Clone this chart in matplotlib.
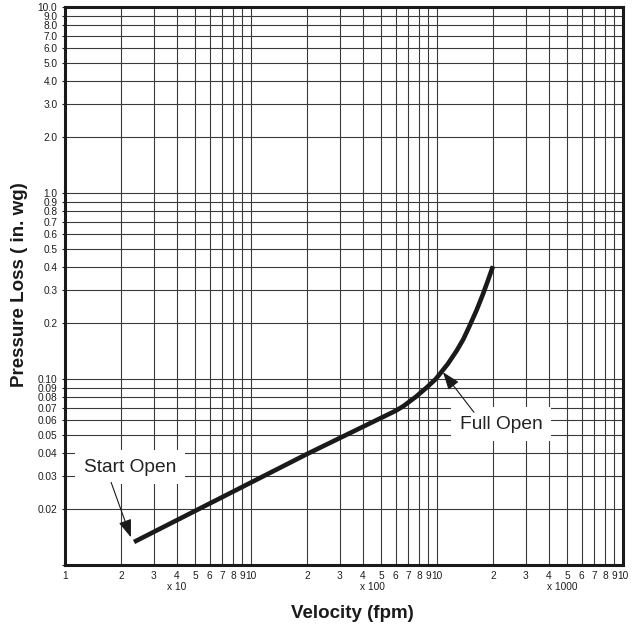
import matplotlib
matplotlib.use("Agg")
import matplotlib.pyplot as plt
from matplotlib.ticker import FixedLocator, FixedFormatter, NullLocator

plt.rcParams['font.family'] = ['Liberation Sans', 'DejaVu Sans']

# ---- data ----
velocity = [23.5, 200, 600, 660, 767, 880, 985, 1143, 1276, 1387, 1486, 1634, 1762, 1870, 2000]
pressure = [0.0133, 0.0395, 0.0675, 0.0715, 0.080, 0.090, 0.100, 0.1205, 0.142, 0.164, 0.190, 0.235, 0.284, 0.334, 0.404]

x_ticks = [10, 20, 30, 40, 50, 60, 70, 80, 90, 100,
           200, 300, 400, 500, 600, 700, 800, 900, 1000,
           2000, 3000, 4000, 5000, 6000, 7000, 8000, 9000, 10000]
x_tick_labels = ['1', '2', '3', '4', '5', '6', '7', '8', '9', '10',
                 '2', '3', '4', '5', '6', '7', '8', '9', '10',
                 '2', '3', '4', '5', '6', '7', '8', '9', '10']
multiplier_labels = ['x 10', 'x 100', 'x 1000']
multiplier_pos = [40, 450, 4700]

y_ticks = [0.01, 0.02, 0.03, 0.04, 0.05, 0.06, 0.07, 0.08, 0.09, 0.10,
           0.2, 0.3, 0.4, 0.5, 0.6, 0.7, 0.8, 0.9, 1.0,
           2.0, 3.0, 4.0, 5.0, 6.0, 7.0, 8.0, 9.0, 10.0]
y_tick_labels = ['', '0.02', '0.03', '0.04', '0.05', '0.06', '0.07', '0.08', '0.09', '0.10',
                 '0.2', '0.3', '0.4', '0.5', '0.6', '0.7', '0.8', '0.9', '1.0',
                 '2.0', '3.0', '4.0', '5.0', '6.0', '7.0', '8.0', '9.0', '10.0']

start_label = 'Start Open'
start_text_pos = (22.3, 0.0335)
start_tail = (17.7, 0.0278)
start_tip = (22.6, 0.0141)

full_label = 'Full Open'
full_text_pos = (2208, 0.0571)
full_tail = (1581, 0.0662)
full_tip = (1077, 0.1088)

# ---- figure ----
fig = plt.figure(figsize=(6.32, 6.26), dpi=100)
ax = fig.add_axes([65/632, 1-565/626, (623-65)/632, (565-7)/626])
ax.set_xscale('log')
ax.set_yscale('log')
ax.set_xlim(10, 10000)
ax.set_ylim(0.01, 10)

ax.xaxis.set_major_locator(FixedLocator(x_ticks))
ax.xaxis.set_major_formatter(FixedFormatter(x_tick_labels))
ax.xaxis.set_minor_locator(NullLocator())
ax.yaxis.set_major_locator(FixedLocator(y_ticks))
ax.yaxis.set_major_formatter(FixedFormatter(y_tick_labels))
ax.yaxis.set_minor_locator(NullLocator())

ax.grid(True, which='major', color='#3a3a3a', lw=0.8, zorder=1)
ax.set_axisbelow(True)
ax.tick_params(axis='x', length=0, pad=4.5, labelsize=7.3, colors='#1e1e1e')
ax.tick_params(axis='y', length=2.5, width=0.8, pad=3, labelsize=7.3, colors='#1e1e1e')
for s in ax.spines.values():
    s.set_linewidth(2.2)
    s.set_color('#1a1a1a')
    s.set_zorder(5)

ax.plot(velocity, pressure, color='#1a1a1a', lw=3.3, solid_capstyle='butt',
        solid_joinstyle='round', zorder=4)

for lab, xp in zip(multiplier_labels, multiplier_pos):
    ax.annotate(lab, xy=(xp, 0), xycoords=('data', 'axes fraction'),
                xytext=(0, -16), textcoords='offset points',
                ha='center', va='center', fontsize=7.3, color='#1e1e1e')

box = dict(boxstyle='square,pad=0.45', fc='white', ec='none')
ax.text(*start_text_pos, start_label, ha='center', va='center', fontsize=13.8,
        color='#222222', bbox=box, zorder=6)
ax.text(*full_text_pos, full_label, ha='center', va='center', fontsize=13.8,
        color='#222222', bbox=box, zorder=6)

arrow = dict(arrowstyle='-|>,head_length=0.6,head_width=0.22', lw=0.8,
             color='#1a1a1a', mutation_scale=18, shrinkA=0, shrinkB=0)
ax.annotate('', xy=start_tip, xytext=start_tail, arrowprops=arrow, zorder=7)
ax.annotate('', xy=full_tip, xytext=full_tail, arrowprops=arrow, zorder=7)

fig.text(352/632, 1-614/626, 'Velocity (fpm)', ha='center', va='center',
         fontsize=13.5, fontweight='bold', color='#1a1a1a')
fig.text(20/632, 1-285/626, 'Pressure Loss ( in. wg)', ha='center', va='center',
         rotation=90, fontsize=13.5, fontweight='bold', color='#1a1a1a')

fig.savefig('out.png', dpi=100)
